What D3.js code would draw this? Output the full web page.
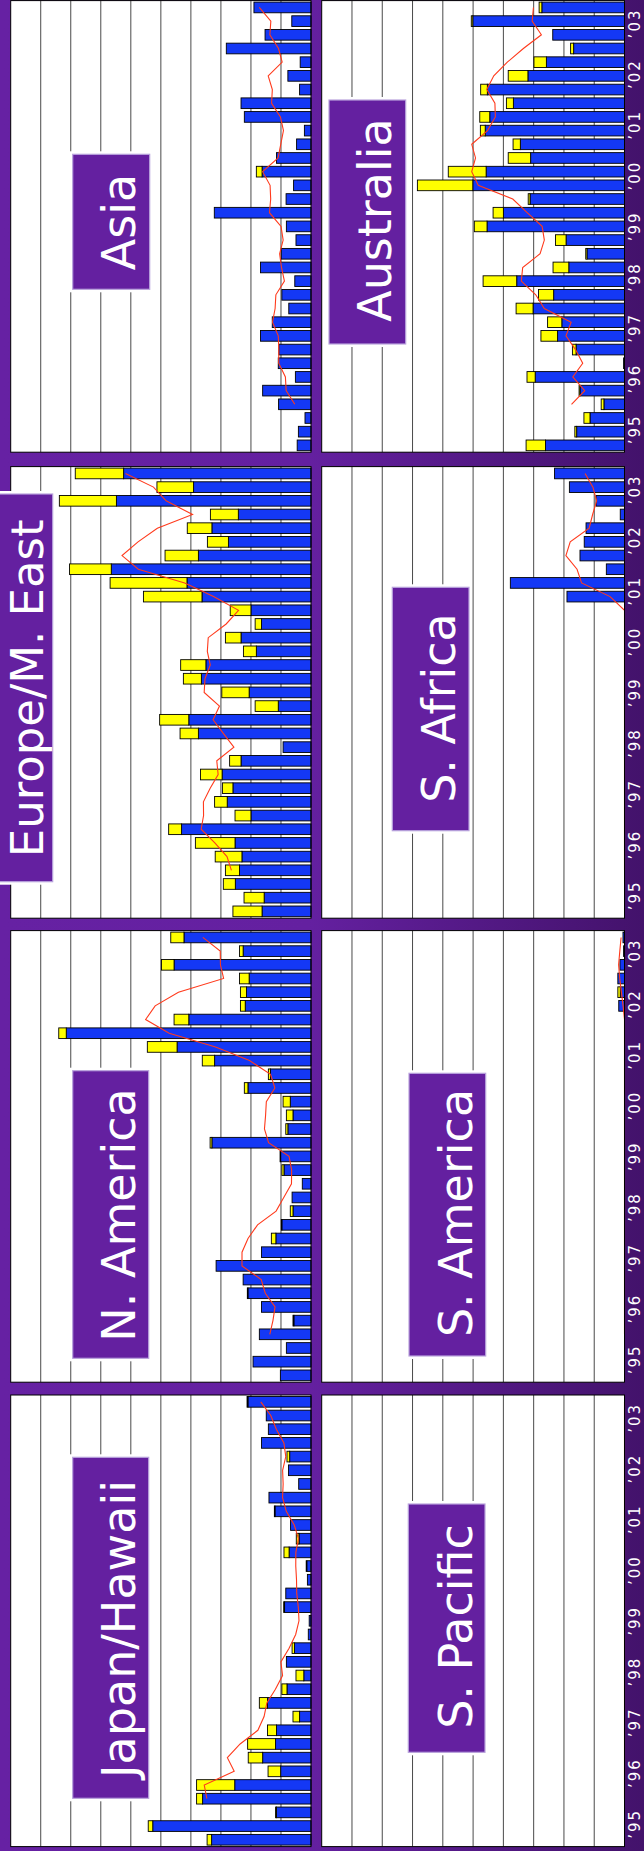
<!DOCTYPE html>
<html>
<head>
<meta charset="utf-8">
<script src="https://cdn.jsdelivr.net/npm/d3@7"></script>
<style>
  html, body { margin: 0; padding: 0; background: #ffffff; }
  svg { display: block; }
</style>
</head>
<body>
<svg id="chart" width="644" height="1851"></svg>
<script>
// ---- data (earliest period first, 33 periods from 1995 to 2003) ----
const periods = d3.range(33);
const yearLabels = ["’95", "’96", "’97", "’98", "’99", "’00", "’01", "’02", "’03"];
const topRegions = ["Japan/Hawaii", "N. America", "Europe/M. East", "Asia"];
const bottomRegions = ["S. Pacific", "S. America", "S. Africa", "Australia"];

const japanBlue   = [3.31, 5.27, 1.15, 3.61, 2.54, 1.01, 1.61, 1.18, 1.15, 0.38, 1.45, 0.80, 0.24, 0.82, 0.55, 0.09, 0.06, 0.88, 0.84, 0.12, 0.14, 0.73, 0.40, 0.68, 1.20, 1.40, 0.41, 0.75, 0.71, 1.65, 1.42, 1.49, 2.10];
const japanYellow = [0.15, 0.15, 0.03, 0.20, 1.27, 0.42, 0.48, 0.93, 0.30, 0.22, 0.27, 0.17, 0.26, 0, 0.08, 0, 0, 0.03, 0, 0, 0.02, 0.17, 0.09, 0, 0.02, 0, 0, 0, 0.09, 0, 0, 0, 0.03];

const nAmericaBlue   = [1.02, 1.93, 0.82, 1.72, 0.57, 1.65, 2.10, 2.26, 3.16, 1.65, 1.17, 0.97, 0.60, 0.63, 0.29, 0.90, 1.01, 3.30, 0.77, 0.60, 0.69, 2.10, 1.35, 3.21, 4.46, 8.15, 4.07, 2.19, 2.15, 2.06, 4.56, 2.26, 4.23];
const nAmericaYellow = [0, 0, 0, 0, 0.03, 0, 0.02, 0, 0, 0, 0.15, 0.02, 0.09, 0, 0, 0.07, 0.02, 0.06, 0.07, 0.22, 0.24, 0.12, 0.07, 0.41, 0.99, 0.25, 0.49, 0.16, 0.20, 0.32, 0.42, 0.12, 0.44];

const europeBlue   = [1.63, 1.56, 2.52, 2.38, 2.30, 2.53, 4.31, 2.00, 2.79, 2.60, 2.96, 2.33, 0.93, 3.75, 4.07, 1.09, 2.06, 3.65, 3.50, 1.82, 2.33, 1.65, 2.00, 3.63, 4.13, 6.65, 3.75, 2.75, 3.30, 2.42, 6.48, 3.91, 6.24];
const europeYellow = [0.97, 0.67, 0.40, 0.47, 0.89, 1.32, 0.43, 0.53, 0.42, 0.35, 0.72, 0.38, 0, 0.61, 0.97, 0.77, 0.91, 0.60, 0.84, 0.43, 0.52, 0.21, 0.69, 1.95, 2.56, 1.39, 1.11, 0.70, 0.82, 0.93, 1.90, 1.22, 1.61];

const asiaBlue   = [0.46, 0.42, 0.20, 1.08, 1.61, 0.52, 1.09, 1.07, 1.68, 1.29, 0.74, 0.97, 0.54, 1.68, 0.99, 0.50, 0.82, 3.22, 0.83, 0.58, 1.63, 1.15, 0.48, 0.22, 2.22, 2.33, 0.38, 0.77, 0.36, 2.82, 1.53, 0.64, 1.90];
const asiaYellow = [0, 0, 0, 0, 0, 0, 0, 0, 0, 0, 0, 0, 0, 0, 0, 0, 0, 0, 0, 0, 0.19, 0, 0, 0, 0, 0, 0, 0, 0, 0, 0, 0, 0];

const sPacificBlue   = [0, 0, 0, 0, 0, 0, 0, 0, 0, 0, 0, 0, 0, 0, 0, 0, 0, 0, 0, 0, 0, 0, 0, 0, 0, 0, 0, 0, 0, 0, 0, 0, 0];
const sPacificYellow = [0, 0, 0, 0, 0, 0, 0, 0, 0, 0, 0, 0, 0, 0, 0, 0, 0, 0, 0, 0, 0, 0, 0, 0, 0, 0, 0, 0, 0, 0, 0, 0, 0];

const sAmericaBlue   = [0, 0, 0, 0, 0, 0, 0, 0, 0, 0, 0, 0, 0, 0, 0, 0, 0, 0, 0, 0, 0, 0, 0, 0, 0, 0, 0, 0.19, 0.14, 0.22, 0.15, 0.03, 0.05];
const sAmericaYellow = [0, 0, 0, 0, 0, 0, 0, 0, 0, 0, 0, 0, 0, 0, 0, 0, 0, 0, 0, 0, 0, 0, 0, 0, 0, 0, 0, 0, 0.08, 0, 0, 0, 0];

const sAfricaBlue   = [0, 0, 0, 0, 0, 0, 0, 0, 0, 0, 0, 0, 0, 0, 0, 0, 0, 0, 0, 0, 0, 0, 0, 1.90, 3.77, 0.60, 1.47, 1.33, 1.27, 0.14, 0.94, 1.82, 2.31];
const sAfricaYellow = [0, 0, 0, 0, 0, 0, 0, 0, 0, 0, 0, 0, 0, 0, 0, 0, 0, 0, 0, 0, 0, 0, 0, 0, 0, 0, 0, 0, 0, 0, 0, 0, 0];

const australiaBlue   = [2.61, 1.58, 1.14, 0.68, 1.47, 2.95, 0.03, 1.60, 2.21, 2.07, 3.02, 2.34, 3.56, 1.84, 1.24, 1.93, 4.54, 4.00, 3.12, 5.01, 4.57, 3.10, 3.44, 4.60, 4.45, 3.67, 4.53, 3.19, 2.58, 1.68, 2.37, 5.01, 2.73];
const australiaYellow = [0.64, 0.06, 0.20, 0.09, 0.03, 0.27, 0, 0.12, 0.55, 0.47, 0.56, 0.50, 1.11, 0.52, 0.04, 0.35, 0.42, 0.34, 0.06, 1.83, 1.25, 0.74, 0.24, 0.16, 0.33, 0.23, 0.22, 0.65, 0.41, 0.10, 0, 0.05, 0.09];

const valueMax = 10;     // ten gridline steps per panel
const avgWindow = 4;     // trailing moving-average period

// ---- panels ----
const panels = [
  { name: topRegions[0],    row: 0, col: 0, blue: japanBlue,     yellow: japanYellow },
  { name: topRegions[1],    row: 0, col: 1, blue: nAmericaBlue,  yellow: nAmericaYellow },
  { name: topRegions[2],    row: 0, col: 2, blue: europeBlue,    yellow: europeYellow },
  { name: topRegions[3],    row: 0, col: 3, blue: asiaBlue,      yellow: asiaYellow },
  { name: bottomRegions[0], row: 1, col: 0, blue: sPacificBlue,  yellow: sPacificYellow },
  { name: bottomRegions[1], row: 1, col: 1, blue: sAmericaBlue,  yellow: sAmericaYellow },
  { name: bottomRegions[2], row: 1, col: 2, blue: sAfricaBlue,   yellow: sAfricaYellow },
  { name: bottomRegions[3], row: 1, col: 3, blue: australiaBlue, yellow: australiaYellow }
];

// Title box layout (chart coordinates, before the page rotation)
const titleLayout = {
  "Japan/Hawaii":   { x0: 52.7,   x1: 393.7,  y0: 72.7,  y1: 148.7, cx: 222,    base: 135, size: 46 },
  "N. America":     { x0: 492.7,  x1: 780.3,  y0: 72.7,  y1: 148.7, cx: 636,    base: 135, size: 46 },
  "Europe/M. East": { x0: 969.3,  x1: 1357,   y0: -6,    y1: 52.7,  cx: 1162.7, base: 43, size: 45 },
  "Asia":           { x0: 1561.7, x1: 1696.7, y0: 72.7,  y1: 149.7, cx: 1629,   base: 135, size: 46 },
  "S. Pacific":     { x0: 98.7,   x1: 347,    y0: 408.3, y1: 485,   cx: 224.5,  base: 472, size: 46 },
  "S. America":     { x0: 495,    x1: 777.7,  y0: 409,   y1: 485.7, cx: 638,    base: 472, size: 46 },
  "S. Africa":      { x0: 1020.3, x1: 1263.7, y0: 392.3, y1: 469,   cx: 1143,   base: 455, size: 46 },
  "Australia":      { x0: 1507,   x1: 1751,   y0: 329,   y1: 405.7, cx: 1631,   base: 391, size: 46 }
};

// ---- geometry ----
const W = 1851;             // chart width before rotation (page height)
const colX = [4.4, 468.8, 932.8, 1398.8];
const colW = 451.6;
const rows = [ { top: 10.7, base: 311 }, { top: 321.7, base: 624.5 } ];

const BLUE = "#1438f5", YELLOW = "#ffff00", RED = "#ff3a1c";

const svg = d3.select("#chart");
const defs = svg.append("defs");
const grad = defs.append("linearGradient")
  .attr("id", "bg").attr("gradientUnits", "userSpaceOnUse")
  .attr("x1", 0).attr("y1", 0).attr("x2", 644).attr("y2", 0);
grad.append("stop").attr("offset", 0).attr("stop-color", "#6621a3");
grad.append("stop").attr("offset", 0.48).attr("stop-color", "#6420a0");
grad.append("stop").attr("offset", 1).attr("stop-color", "#43126b");

svg.append("rect").attr("width", 644).attr("height", 1851).attr("fill", "url(#bg)");

// The whole chart is laid out landscape and turned a quarter turn on the page.
const g = svg.append("g").attr("transform", `translate(0,${W}) rotate(-90)`);

function trailingMean(values, n) {
  return values.map((v, i) => i < n - 1 ? null : d3.mean(values.slice(i - n + 1, i + 1)));
}

panels.forEach(p => {
  const x0 = colX[p.col], x1 = x0 + colW;
  const r = rows[p.row];
  const x = d3.scaleBand().domain(periods).range([x0, x1]).paddingInner(0.22).paddingOuter(0.11);
  const y = d3.scaleLinear().domain([0, valueMax]).range([r.base, r.top]);

  const pg = g.append("g").attr("class", "panel");

  pg.append("rect")
    .attr("x", x0).attr("y", r.top)
    .attr("width", colW).attr("height", r.base - r.top)
    .attr("fill", "#ffffff");

  // value gridlines
  pg.append("g").selectAll("line")
    .data(y.ticks(valueMax).filter(t => t > 0 && t < valueMax))
    .join("line")
    .attr("x1", x0).attr("x2", x1)
    .attr("y1", d => y(d)).attr("y2", d => y(d))
    .attr("stroke", "#4a4a4a").attr("stroke-width", 1);

  const rowsData = periods.map(i => ({ i, blue: p.blue[i], yellow: p.yellow[i] }));

  pg.append("g").selectAll("rect")
    .data(rowsData.filter(d => d.blue > 0))
    .join("rect")
    .attr("x", d => x(d.i)).attr("width", x.bandwidth())
    .attr("y", d => y(d.blue)).attr("height", d => y(0) - y(d.blue))
    .attr("fill", BLUE).attr("stroke", "#000").attr("stroke-width", 0.9);

  pg.append("g").selectAll("rect")
    .data(rowsData.filter(d => d.yellow > 0))
    .join("rect")
    .attr("x", d => x(d.i)).attr("width", x.bandwidth())
    .attr("y", d => y(d.blue + d.yellow)).attr("height", d => y(d.blue) - y(d.blue + d.yellow))
    .attr("fill", YELLOW).attr("stroke", "#000").attr("stroke-width", 0.9);

  // 4-period moving average of the stacked totals
  const totals = periods.map(i => p.blue[i] + p.yellow[i]);
  const avg = trailingMean(totals, avgWindow);
  const line = d3.line()
    .defined(d => d.v !== null)
    .x(d => x(d.i) + x.bandwidth() / 2)
    .y(d => y(d.v));
  pg.append("path")
    .datum(periods.map(i => ({ i, v: avg[i] })))
    .attr("d", line)
    .attr("fill", "none").attr("stroke", RED).attr("stroke-width", 1.1);

  pg.append("rect")
    .attr("x", x0).attr("y", r.top)
    .attr("width", colW).attr("height", r.base - r.top)
    .attr("fill", "none").attr("stroke", "#000").attr("stroke-width", 1);

  // region title
  const t = titleLayout[p.name];
  pg.append("rect")
    .attr("x", t.x0 - 3).attr("y", t.y0 - 3)
    .attr("width", t.x1 - t.x0 + 6).attr("height", t.y1 - t.y0 + 6)
    .attr("fill", "#ffffff");
  pg.append("rect")
    .attr("x", t.x0).attr("y", t.y0)
    .attr("width", t.x1 - t.x0).attr("height", t.y1 - t.y0)
    .attr("fill", "#6420a0").attr("stroke", "#b9a3dc").attr("stroke-width", 1.2);
  pg.append("text")
    .attr("x", t.cx).attr("y", t.base)
    .attr("text-anchor", "middle")
    .attr("font-family", "'DejaVu Sans', sans-serif")
    .attr("font-size", t.size)
    .attr("fill", "#ffffff")
    .text(p.name);

  // year labels along the lower edge
  if (p.row === 1) {
    const yr = d3.scalePoint().domain(yearLabels).range([x0, x1]).padding(0.45);
    pg.append("g").selectAll("text")
      .data(yearLabels)
      .join("text")
      .attr("x", d => yr(d)).attr("y", 640)
      .attr("text-anchor", "middle")
      .attr("font-family", "'DejaVu Sans', sans-serif")
      .attr("font-size", 15)
      .attr("letter-spacing", "2px")
      .attr("fill", "#ffffff")
      .text(d => d);
  }
});
</script>
</body>
</html>
